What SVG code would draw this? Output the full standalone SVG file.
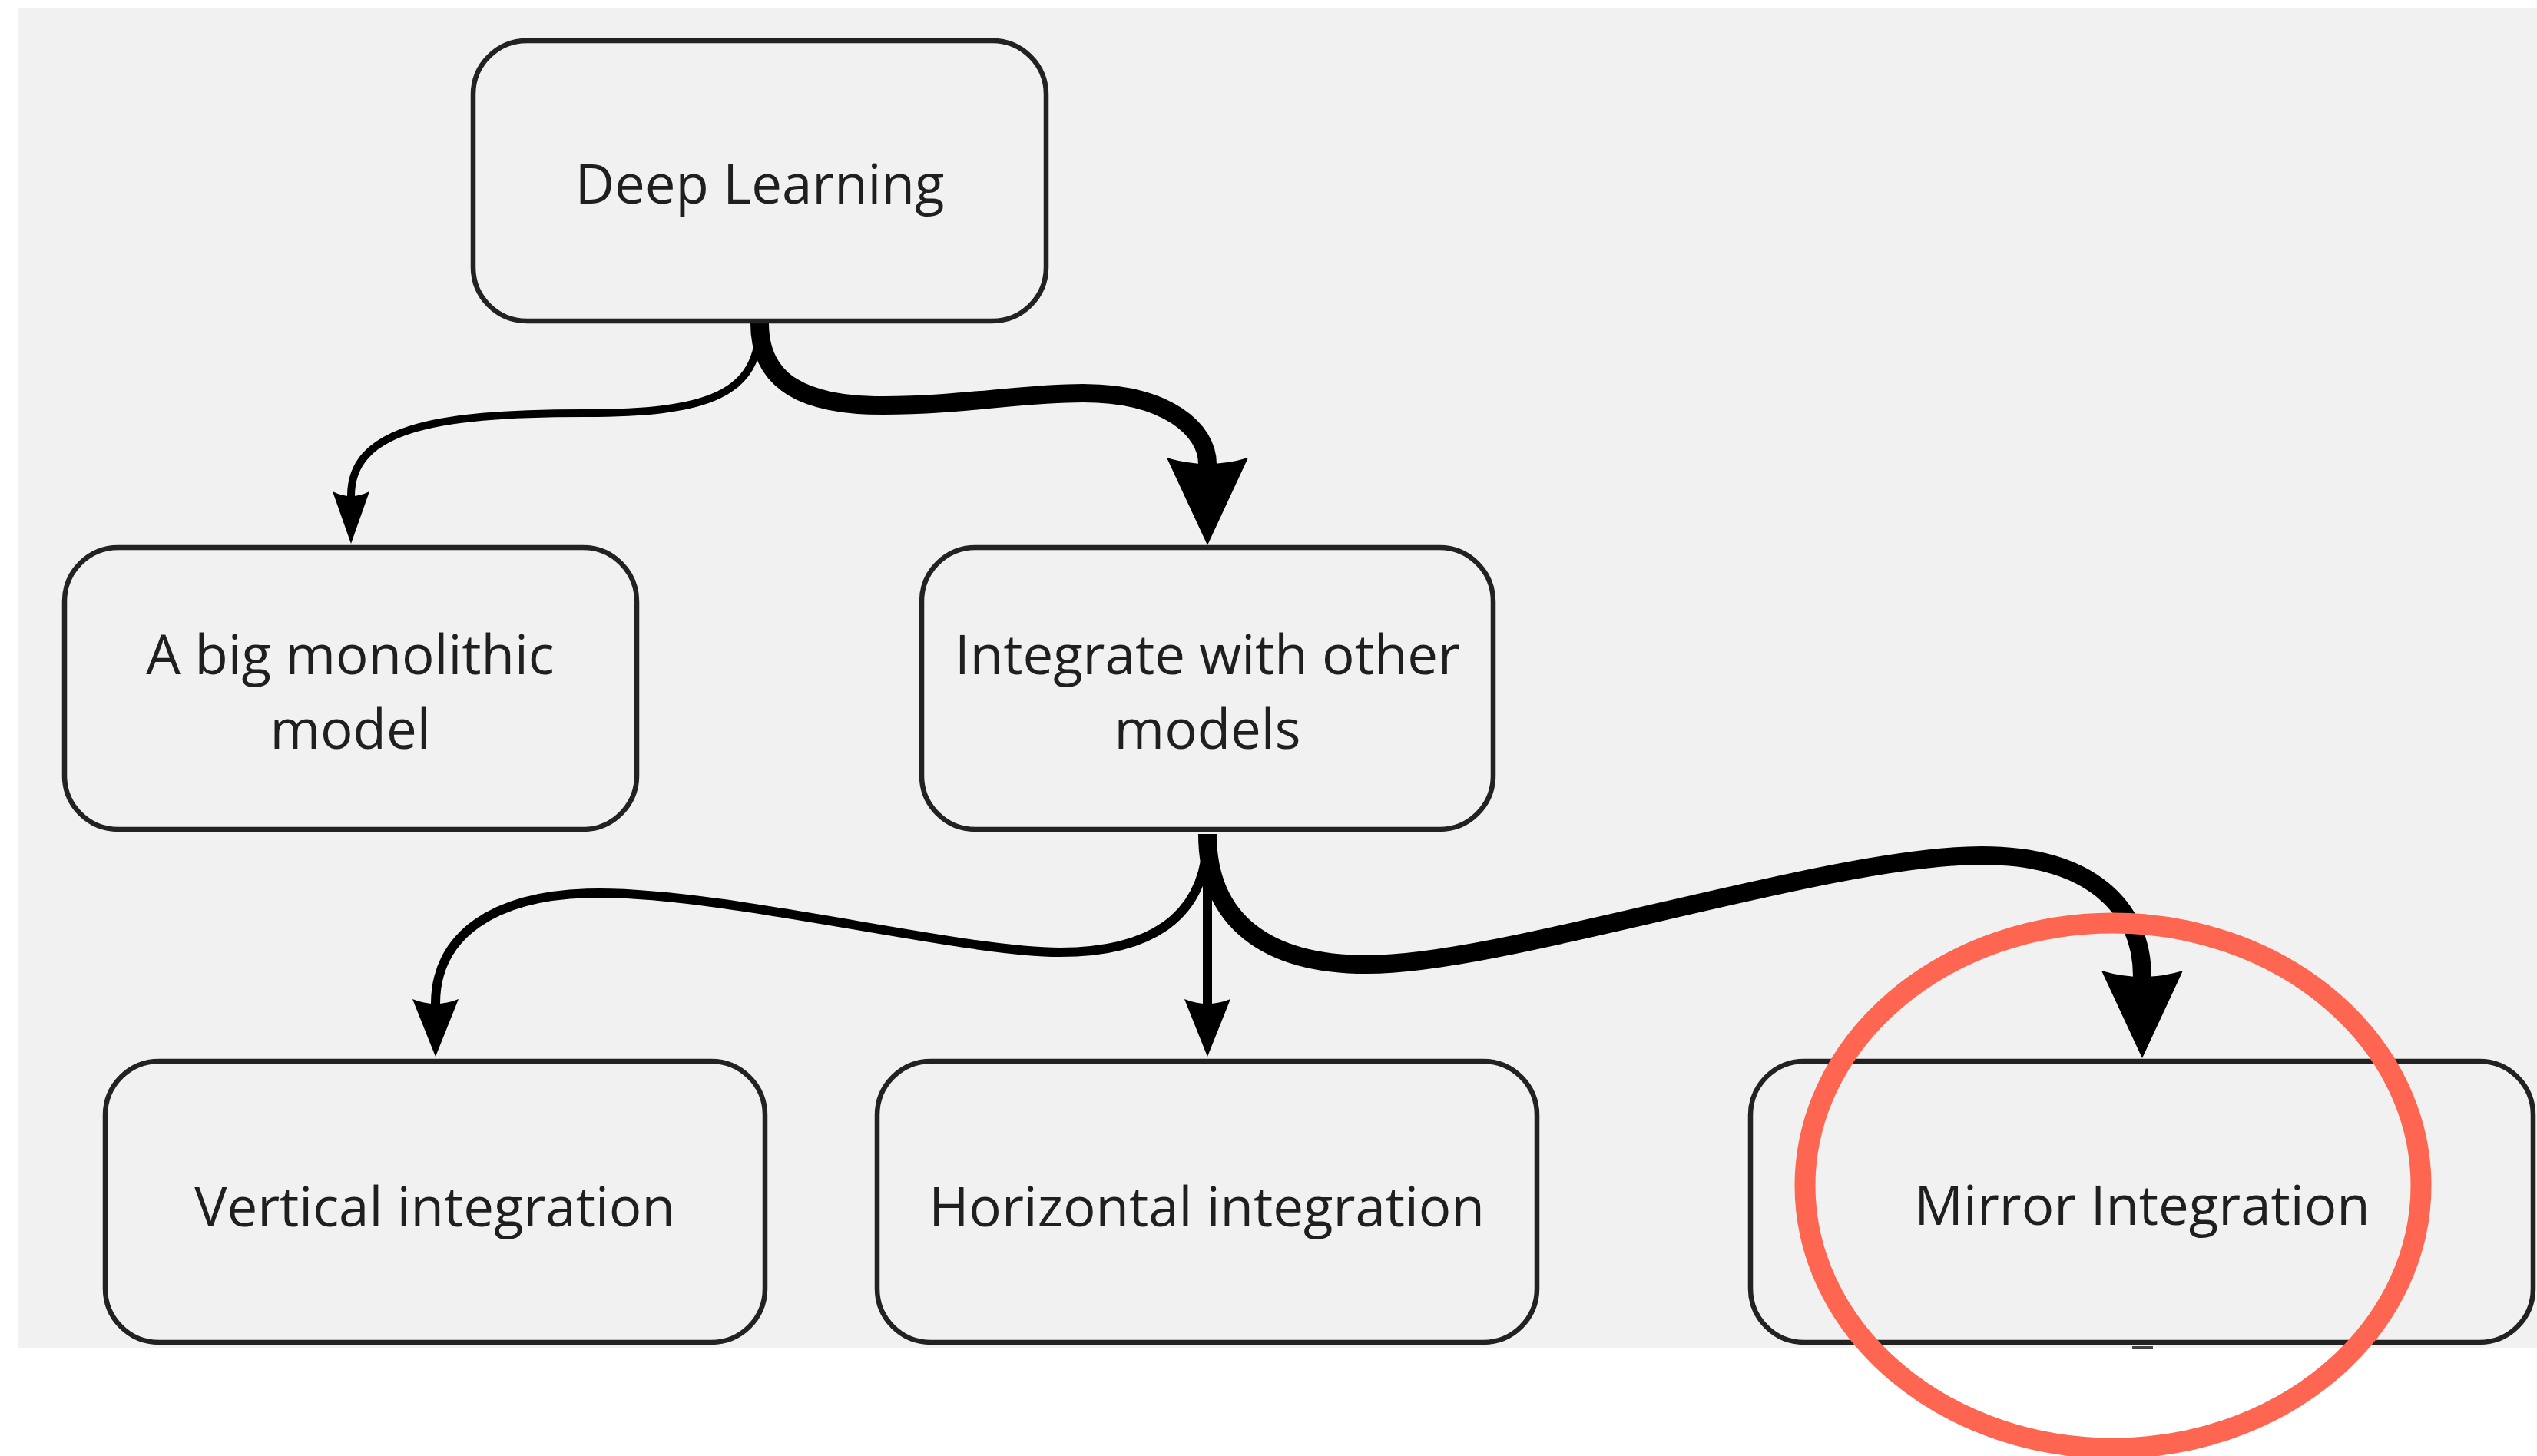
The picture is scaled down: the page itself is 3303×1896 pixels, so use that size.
<svg xmlns="http://www.w3.org/2000/svg" width="3303" height="1896" viewBox="0 0 3303 1896">
  <style>
    .node rect { fill: none; stroke: #222222; stroke-width: 6.5; }
    .node text { font-family: "Open Sans", "Liberation Sans", sans-serif; font-size: 70.8px; fill: #1f1f1f; text-anchor: middle; }
    .edge { fill: none; stroke: #000000; }
    .thin { stroke-width: 10; }
    .medium { stroke-width: 12; }
    .thick { stroke-width: 24; }
  </style>
  <defs>
    <marker id="head-thin" markerUnits="userSpaceOnUse" orient="auto" refX="6" refY="0" markerWidth="70" markerHeight="50" overflow="visible">
      <path d="M0,-24 Q12,0 0,24 L68,0 Z" fill="#000000"/>
    </marker>
    <marker id="head-medium" markerUnits="userSpaceOnUse" orient="auto" refX="6" refY="0" markerWidth="76" markerHeight="62" overflow="visible">
      <path d="M0,-30 Q12,0 0,30 L75,0 Z" fill="#000000"/>
    </marker>
    <marker id="head-thick" markerUnits="userSpaceOnUse" orient="auto" refX="8" refY="0" markerWidth="116" markerHeight="108" overflow="visible">
      <path d="M0,-53 Q16,0 0,53 L114,0 Z" fill="#000000"/>
    </marker>
  </defs>

  <!-- canvas -->
  <rect x="0" y="0" width="3303" height="1896" fill="#ffffff"/>
  <rect x="24" y="11" width="3279" height="1744" fill="#f1f1f1"/>

  <!-- connectors -->
  <g id="connectors">
    <path id="e-dl-monolith" class="edge thin" d="M989,421 C989,515 920,538 760,538 C560,538 457,560 457,646" marker-end="url(#head-thin)"/>
    <path id="e-dl-integrate" class="edge thick" d="M989,421 C989,500 1050,528 1150,528 C1250,528 1330,512 1410,512 C1520,512 1572,560 1572,604" marker-end="url(#head-thick)"/>
    <path id="e-int-vertical" class="edge medium" d="M1572,1086 C1572,1200 1490,1240 1380,1240 C1250,1240 950,1163 780,1163 C640,1163 567,1220 567,1307" marker-end="url(#head-medium)"/>
    <path id="e-int-horizontal" class="edge medium" d="M1572,1086 L1572,1307" marker-end="url(#head-medium)"/>
    <path id="e-int-mirror" class="edge thick" d="M1572,1086 C1572,1200 1650,1256 1780,1256 C1960,1256 2380,1114 2580,1114 C2720,1114 2789,1180 2789,1272" marker-end="url(#head-thick)"/>
  </g>

  <!-- nodes -->
  <g id="node-deep-learning" class="node">
    <rect x="616" y="53" width="746" height="365" rx="70" ry="70"/>
    <text x="989" y="265">Deep Learning</text>
  </g>
  <g id="node-monolithic" class="node">
    <rect x="84" y="713" width="745" height="367" rx="70" ry="70"/>
    <text x="456" y="878">A big monolithic</text>
    <text x="456" y="975">model</text>
  </g>
  <g id="node-integrate" class="node">
    <rect x="1200" y="713" width="744" height="367" rx="70" ry="70"/>
    <text x="1572" y="878">Integrate with other</text>
    <text x="1572" y="975">models</text>
  </g>
  <g id="node-vertical" class="node">
    <rect x="137" y="1382" width="859" height="366" rx="70" ry="70"/>
    <text x="566" y="1597">Vertical integration</text>
  </g>
  <g id="node-horizontal" class="node">
    <rect x="1142" y="1382" width="859" height="366" rx="70" ry="70"/>
    <text x="1571" y="1597">Horizontal integration</text>
  </g>
  <g id="node-mirror" class="node">
    <rect x="2279" y="1382" width="1019" height="366" rx="70" ry="70"/>
    <text x="2789" y="1595">Mirror Integration</text>
  </g>

  <!-- small stub under the mirror node -->
  <rect x="2776" y="1753" width="27" height="4" fill="#444444"/>

  <!-- highlight ring -->
  <g id="highlight">
    <ellipse cx="2751" cy="1544" rx="401" ry="342" fill="none" stroke="#ff6651" stroke-width="27"/>
  </g>
</svg>
